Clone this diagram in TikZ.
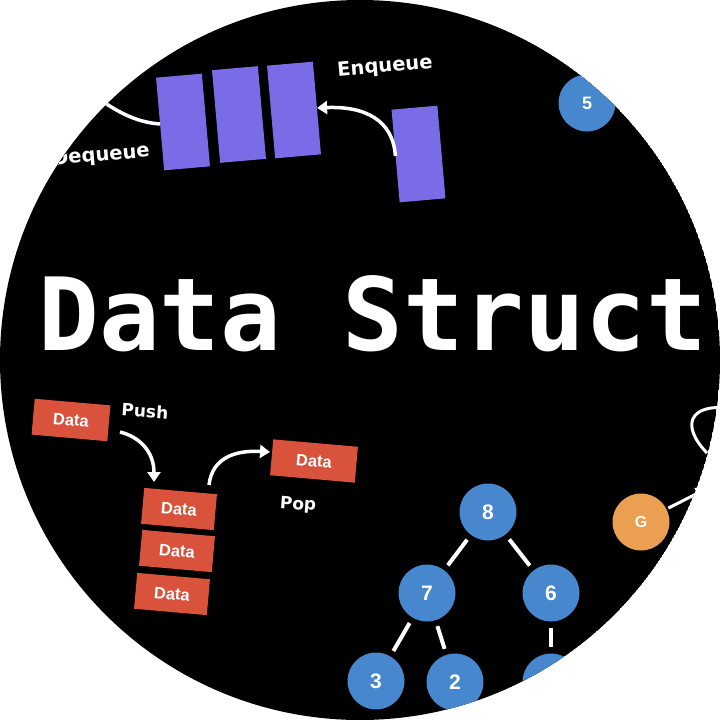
\documentclass[tikz,border=0pt]{standalone}
\usepackage{fontspec}
\usetikzlibrary{arrows.meta}
\newfontfamily\lblfont{DejaVu Sans}
\newfontfamily\ttlfont{DejaVu Sans Mono}
\newfontfamily\arialfont{Liberation Sans}
\definecolor{qpurple}{RGB}{122,108,230}
\definecolor{sred}{RGB}{216,82,60}
\definecolor{tblue}{RGB}{70,135,205}
\definecolor{gorange}{RGB}{234,160,80}
\begin{document}
\begin{tikzpicture}[x=1pt,y=-1pt,
 qbox/.style={fill=qpurple,minimum width=46pt,minimum height=93pt,inner sep=0pt,rotate=5},
 dbox/.style={fill=sred,minimum height=36pt,inner sep=0pt,rotate=-5,text=white,font=\arialfont\bfseries\fontsize{16.5}{20}\selectfont},
 bnode/.style={circle,fill=tblue,minimum size=57pt,inner sep=0pt,text=white,font=\arialfont\bfseries\fontsize{21}{25}\selectfont},
 lbl/.style={text=white,inner sep=0pt,font=\lblfont\bfseries\fontsize{19.5}{23}\selectfont},
 wline/.style={draw=white,line width=3.5pt},
 warrow/.style={wline,-{Triangle[length=10pt,width=13pt]}},
 tedge/.style={draw=white,line width=4pt,shorten <=6pt,shorten >=6pt}]
\useasboundingbox (0,0) rectangle (720,720);
\fill[white] (0,0) rectangle (720,720);
\begin{scope}
\clip (360,360) circle (360pt);
\fill[black] (360,360) circle (360pt);
% queue
\node[qbox] (q1) at (183,122) {};
\node[qbox] (q2) at (239,114.5) {};
\node[qbox] (q3) at (294,110) {};
\node[qbox] (q4) at (418.5,154) {};
\coordinate (deqE) at (80,85);
\draw[wline] (q1.west) .. controls (135,122) and (115,112) .. (deqE);
\draw[warrow] (q4.west) .. controls (393,120) and (365,106) .. (q3.east);
\node[lbl,rotate=5] (enq) at (385,67) {Enqueue};
\node[lbl,rotate=5] (deq) at (101,156) {Dequeue};
% title
\node[anchor=base west,inner sep=0pt,text=white,font=\ttlfont\bfseries\fontsize{101}{115}\selectfont] (title) at (38,350) {Data Struct};
% stack
\node[dbox,minimum width=76pt] (d0) at (71,420) {Data};
\node[dbox,minimum width=73pt] (s1) at (179,509) {Data};
\node[dbox,minimum width=73pt] (s2) at (177,551) {Data};
\node[dbox,minimum width=73pt] (s3) at (172,594) {Data};
\node[dbox,minimum width=85pt] (dp) at (314,461) {Data};
\node[lbl,rotate=-4,font=\lblfont\bfseries\fontsize{17}{20}\selectfont] (push) at (145,411) {Push};
\node[lbl,rotate=-4,font=\lblfont\bfseries\fontsize{17}{20}\selectfont] (pop) at (298,505) {Pop};
\coordinate (pushS) at (120,432);
\coordinate (pushE) at (154,482);
\coordinate (popS) at (209,485);
\coordinate (popE) at (270,452);
\draw[warrow] (pushS) .. controls (140,437) and (154,452) .. (pushE);
\draw[warrow] (popS) .. controls (212,458) and (235,450) .. (popE);
% tree
\node[bnode] (t8) at (488,512) {8};
\node[bnode] (t7) at (427,593) {7};
\node[bnode] (t6) at (551,593) {6};
\node[bnode] (t3) at (376,681) {3};
\node[bnode] (t2) at (455,682) {2};
\node[bnode] (t4) at (551,682) {};
\draw[tedge] (t8) -- (t7);
\draw[tedge] (t8) -- (t6);
\draw[tedge] (t7) -- (t3);
\draw[tedge] (t7) -- (t2);
\draw[tedge] (t6) -- (t4);
% other
\node[bnode,font=\arialfont\bfseries\fontsize{18}{22}\selectfont] (n5) at (587,103) {5};
\node[bnode,fill=gorange,font=\arialfont\bfseries\fontsize{16}{19}\selectfont] (g) at (641,522) {G};
\coordinate (gE) at (706,489);
\draw[wline,line width=3pt,-{Triangle[length=10pt,width=12pt]},shorten <=2pt] (g) -- (gE);
\coordinate (lpA) at (707,453);
\coordinate (lpB) at (728,408);
\draw[wline,line width=3pt] (lpA) .. controls (680,425) and (690,404) .. (lpB);
\end{scope}
\end{tikzpicture}
\end{document}
